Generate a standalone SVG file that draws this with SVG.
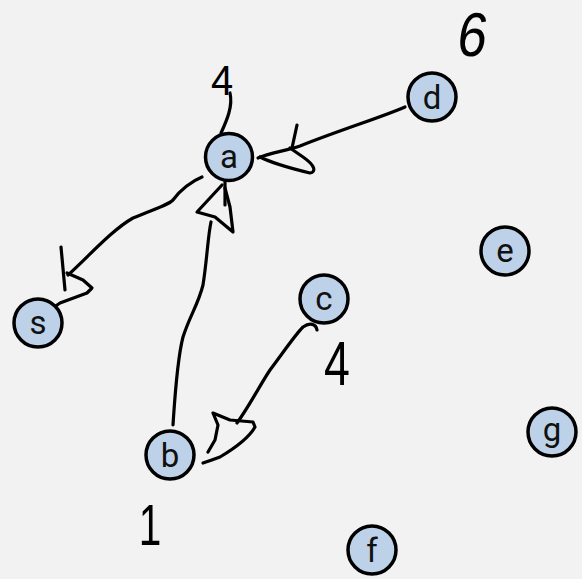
<svg xmlns="http://www.w3.org/2000/svg" width="582" height="579" viewBox="0 0 582 579">
<style>
.n circle{fill:#bdd1e8;stroke:#000;stroke-width:3.5}
.n text{font-family:Roboto,"Liberation Sans",sans-serif;font-size:33px;fill:#111;text-anchor:middle}
.e path{fill:none;stroke:#000;stroke-width:3.2;stroke-linecap:round;stroke-linejoin:round}
.lbl{font-family:"Liberation Sans",Arial,sans-serif;fill:#000;text-anchor:middle}
</style>
<rect width="582" height="579" fill="#f2f2f2"/>
<g id="edges" class="e">
<path d="M230,93 C233,106 227,120 221,133"/>
<path d="M405,107 C385,116 340,130 300,146 C285,151 270,153 258,158"/>
<path d="M297,125 L292,148"/>
<path d="M260,157 C270,162 285,167 310,173 C316,172 316,166 303,157 L290,148"/>
<path d="M202,177 C192,181 180,190 173,200 C168,205 160,207 133,218 C112,230 90,255 68,275"/>
<path d="M61,247 L65,290"/>
<path d="M67,273 L83,280 L92,288 L87,293 L60,303 L50,310"/>
<path d="M173,425 C175,395 177,360 183,337 C190,315 198,305 203,285 C207,260 208,235 211,222"/>
<path d="M225,182 L225,205"/>
<path d="M222,185 L197,212 L215,217 L233,232 L230,207 L225,188"/>
<path d="M317,330 C316,324 310,322 303,327 C295,335 285,350 270,370 C260,385 250,405 237,423"/>
<path d="M208,452 L215,440 L218,425 L213,413 L230,420 L253,422 L255,427 C250,436 240,445 220,457 C212,460 206,462 203,463"/>
</g>
<text class="lbl" font-size="42" transform="translate(222,95) scale(0.95,1)">4</text>
<text class="lbl" font-size="62" transform="translate(470,56) skewX(-8) scale(0.85,1)">6</text>
<text class="lbl" font-size="62" transform="translate(337,385) scale(0.75,1)">4</text>
<text class="lbl" font-size="58" transform="translate(150,545) scale(0.7,1)">1</text>
<g id="a" class="n"><circle cx="229" cy="157" r="23.5"/><text x="229" y="168">a</text></g>
<g id="d" class="n"><circle cx="432" cy="97" r="24"/><text x="432" y="109">d</text></g>
<g id="s" class="n"><circle cx="38" cy="323" r="24"/><text x="38" y="334">s</text></g>
<g id="c" class="n"><circle cx="324" cy="299" r="24"/><text x="324" y="310">c</text></g>
<g id="e" class="n"><circle cx="505" cy="251" r="24"/><text x="505" y="262">e</text></g>
<g id="b" class="n"><circle cx="170" cy="455" r="24"/><text x="170" y="467">b</text></g>
<g id="g" class="n"><circle cx="552" cy="432" r="24"/><text x="552" y="441">g</text></g>
<g id="f" class="n"><circle cx="372" cy="550" r="24"/><text x="372" y="562">f</text></g>
</svg>
